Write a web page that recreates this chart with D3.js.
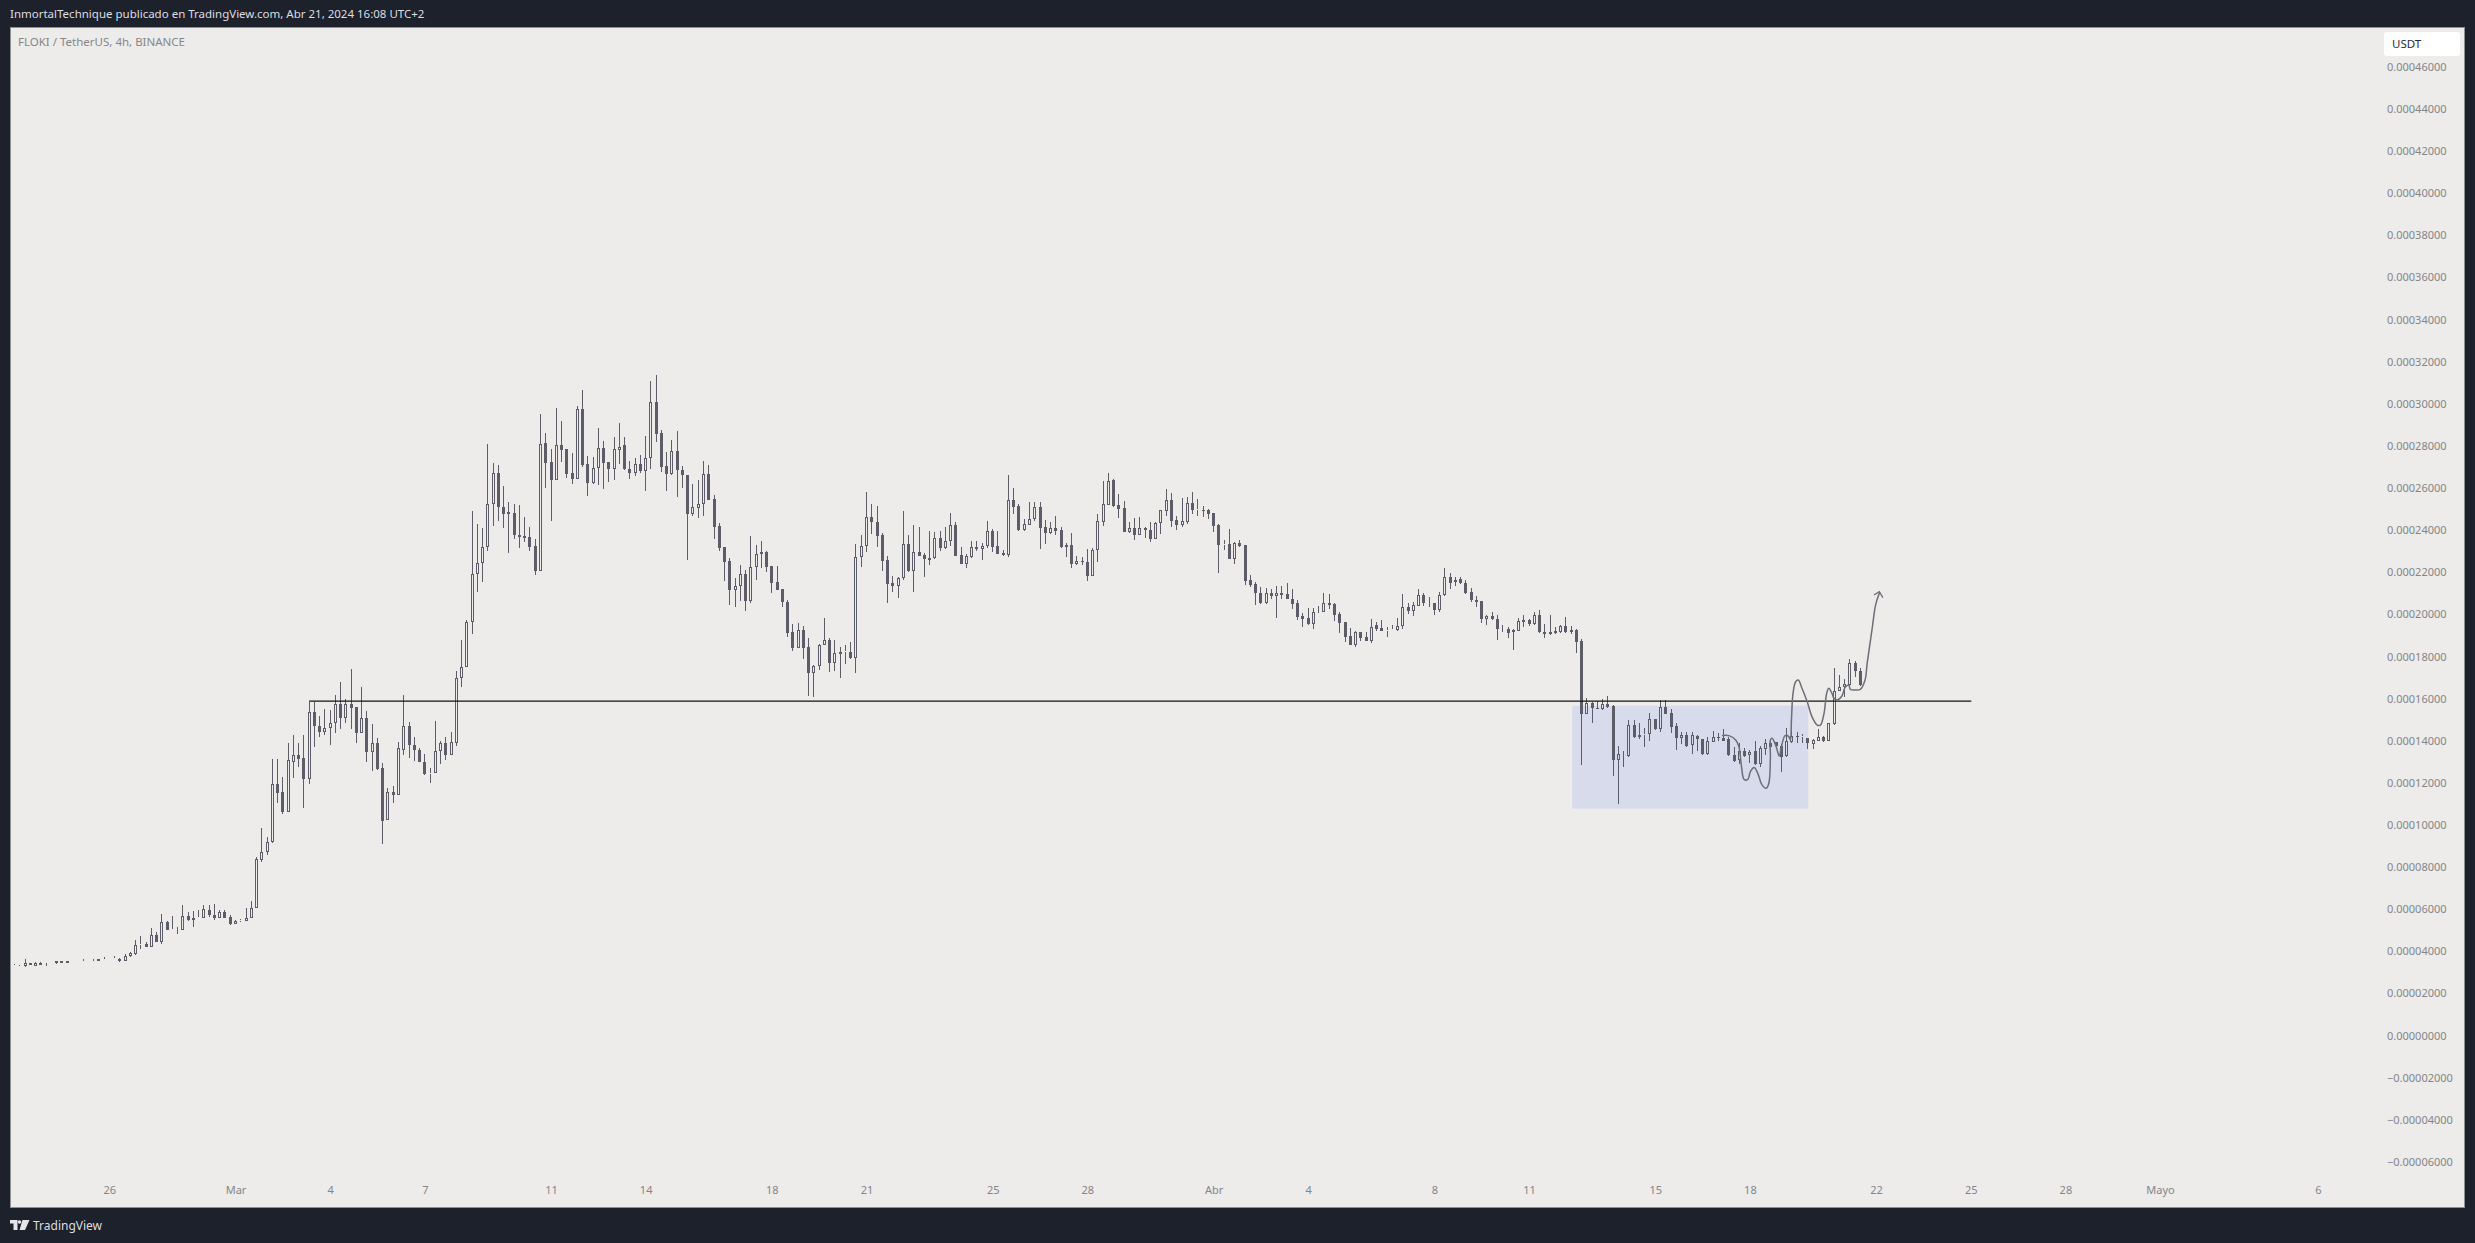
<!DOCTYPE html>
<html><head><meta charset="utf-8">
<script src="https://cdn.jsdelivr.net/npm/d3@7/dist/d3.min.js"></script>
<style>html,body{margin:0;padding:0;background:#1c212c;overflow:hidden}svg{display:block}</style>
</head><body><svg id="chart" width="2475" height="1243"></svg>
<script>
// Prices are in units of 1e-7 USDT. Rows: [open, high, low, close], one 4h bar each, first bar 2024-02-22 20:00 UTC.
const barsA=[[344,346,342,344],[341,345,340,341],[334,337,333,335],[332,365,330,348],[348,349,337,338],[336,351,336,350],[350,351,340,340],[342,350,336,345],[347,348,346,348],[346,358,345,357],[357,358,349,350],[357,358,349,350],[357,359,356,358],[357,358,356,357],[358,367,357,359],[357,359,356,358],[360,367,359,362],[365,366,358,359],[366,377,365,367],[371,372,370,371],[372,379,371,373],[369,370,354,357],[359,389,358,379],[379,401,378,395],[391,458,388,432],[432,474,416,437],[438,446,424,426],[426,515,424,483],[483,497,449,450],[448,580,440,544],[544,546,506,507],[507,572,506,509],[509,521,487,511],[505,623,503,570],[570,590,546,552],[552,594,517,564],[564,600,563,566],[562,625,561,604],[602,623,566,574],[574,627,554,564],[564,602,563,590],[590,598,563,564],[566,574,527,535],[535,554,534,546],[546,558,542,550],[548,608,547,564],[564,641,563,611],[611,850,610,842],[838,989,830,877],[877,948,863,921]];
const barsB=[[921,1316,920,1200],[1200,1316,1106,1157],[1159,1232,1056,1064],[1066,1391,1065,1310],[1303,1431,1228,1334],[1334,1393,1279,1318],[1324,1431,1086,1220],[1220,1590,1200,1539],[1539,1590,1373,1476],[1476,1519,1421,1446],[1446,1555,1429,1462],[1462,1549,1383,1490],[1490,1622,1440,1576],[1576,1681,1460,1513],[1513,1602,1486,1580],[1580,1744,1460,1560],[1562,1563,1395,1442],[1442,1657,1441,1511],[1511,1547,1303,1348],[1348,1484,1259,1391],[1391,1417,1267,1271],[1273,1299,915,1023],[1029,1180,1028,1159],[1159,1188,1106,1147],[1147,1397,1146,1367],[1362,1622,1338,1476],[1476,1495,1324,1385],[1385,1421,1306,1362],[1362,1371,1303,1304],[1304,1342,1243,1245],[1245,1275,1204,1251],[1251,1497,1250,1354],[1354,1403,1295,1393],[1393,1421,1314,1338],[1338,1444,1337,1397],[1393,1736,1381,1700],[1700,1882,1661,1756],[1756,1976,1754,1966],[1966,2493,1912,2194],[2194,2433,2112,2246],[2246,2414,2156,2322],[2322,2813,2307,2527],[2527,2721,2425,2674],[2674,2712,2447,2515],[2515,2615,2416,2482],[2482,2536,2297,2489],[2485,2530,2362,2383],[2383,2523,2321,2373],[2375,2466,2349,2368],[2370,2419,2307,2326]];
const barsC=[[2327,2360,2193,2212],[2212,2956,2211,2811],[2816,2864,2606,2724],[2726,2789,2449,2644],[2641,2984,2640,2807],[2807,2922,2729,2786],[2788,2790,2653,2672],[2674,2770,2625,2648],[2648,2994,2647,2979],[2979,3070,2705,2713],[2717,2756,2568,2630],[2628,2751,2625,2698],[2698,2888,2618,2793],[2793,2826,2601,2724],[2726,2728,2634,2696],[2696,2845,2644,2788],[2786,2911,2720,2800],[2807,2845,2688,2696],[2696,2732,2647,2677],[2677,2747,2663,2717],[2717,2759,2677,2687],[2687,2851,2591,2745],[2745,3112,2694,3011],[3011,3141,2823,2862],[2864,2880,2682,2705],[2707,2775,2591,2672],[2671,2832,2664,2778],[2778,2875,2563,2688],[2688,2709,2606,2664],[2664,2666,2264,2482],[2481,2623,2473,2512],[2511,2642,2463,2527],[2527,2732,2471,2669],[2669,2713,2547,2549],[2550,2571,2362,2421],[2424,2440,2307,2321],[2322,2324,2164,2254],[2256,2272,2049,2121],[2121,2177,2041,2140],[2140,2240,2069,2196],[2196,2215,2022,2069],[2069,2376,2060,2227],[2227,2333,2169,2289],[2289,2352,2224,2299],[2300,2307,2207,2231],[2232,2234,2107,2155],[2156,2234,2120,2121],[2123,2124,2041,2061],[2061,2072,1898,1916],[1919,1958,1832,1846]];
const barsD=[[1846,1961,1845,1928],[1928,1949,1792,1846],[1847,1890,1618,1727],[1727,1764,1613,1757],[1757,1865,1741,1857],[1857,1987,1856,1881],[1881,1890,1732,1771],[1771,1882,1737,1819],[1817,1849,1703,1827],[1827,1859,1770,1829],[1824,1871,1792,1798],[1798,2337,1727,2275],[2275,2379,2229,2327],[2327,2584,2302,2468],[2468,2528,2386,2444],[2444,2519,2326,2378],[2381,2389,2212,2259],[2262,2280,2060,2150],[2151,2186,2112,2140],[2140,2180,2083,2177],[2177,2493,2167,2337],[2337,2379,2205,2210],[2212,2428,2112,2299],[2299,2419,2281,2283],[2286,2294,2183,2265],[2264,2400,2238,2273],[2272,2397,2269,2367],[2365,2400,2306,2321],[2321,2417,2316,2351],[2351,2484,2329,2427],[2428,2443,2281,2283],[2284,2324,2242,2243],[2245,2289,2224,2281],[2278,2351,2273,2322],[2322,2352,2305,2314],[2316,2343,2262,2330],[2327,2447,2319,2398],[2400,2409,2302,2325],[2327,2400,2289,2292],[2294,2310,2283,2287],[2286,2666,2276,2545],[2545,2604,2481,2515],[2519,2526,2401,2405],[2405,2457,2401,2432],[2430,2538,2427,2458],[2457,2538,2447,2512],[2514,2536,2314,2416],[2417,2450,2338,2392],[2390,2441,2387,2413],[2413,2469,2381,2401]];
const barsE=[[2403,2417,2321,2324],[2324,2344,2275,2332],[2332,2389,2226,2245],[2243,2283,2237,2256],[2256,2276,2240,2254],[2251,2313,2164,2188],[2188,2318,2187,2310],[2308,2481,2253,2446],[2444,2636,2424,2526],[2525,2675,2523,2639],[2642,2645,2515,2520],[2522,2574,2462,2506],[2507,2542,2395,2397],[2397,2441,2392,2413],[2413,2460,2357,2381],[2382,2465,2379,2413],[2413,2417,2365,2403],[2403,2443,2349,2362],[2363,2441,2362,2438],[2436,2501,2386,2498],[2495,2598,2471,2545],[2545,2580,2419,2449],[2450,2471,2405,2428],[2428,2557,2420,2446],[2441,2561,2435,2531],[2531,2585,2481,2501],[2501,2550,2473,2502],[2500,2520,2466,2498],[2498,2503,2457,2482],[2484,2485,2395,2424],[2428,2433,2200,2335],[2335,2359,2311,2337],[2338,2409,2267,2268],[2268,2346,2243,2343],[2341,2357,2325,2329],[2332,2333,2143,2161],[2166,2191,2134,2142],[2147,2156,2048,2107],[2107,2134,2055,2058],[2058,2128,2055,2107],[2107,2123,2079,2093],[2093,2140,1987,2107],[2107,2140,2075,2096],[2099,2151,2075,2077],[2079,2124,2029,2055],[2056,2071,1977,1991],[1996,2009,1944,1983],[1985,2033,1953,1957],[1958,2036,1934,2014],[2014,2045,2010,2015]];
const barsF=[[2015,2107,2014,2059],[2059,2099,2028,2050],[2055,2056,1971,2001],[2006,2017,1915,1965],[1966,1968,1873,1896],[1901,1938,1857,1860],[1858,1927,1849,1919],[1920,1922,1876,1892],[1895,1919,1877,1879],[1877,1980,1870,1945],[1952,1969,1927,1934],[1938,1976,1925,1927],[1927,1945,1896,1930],[1930,1953,1930,1933],[1930,1985,1927,1950],[1949,2101,1933,2037],[2037,2059,2006,2020],[2021,2061,1996,2047],[2045,2123,2042,2094],[2096,2107,2045,2056],[2056,2085,2040,2057],[2056,2058,2001,2026],[2025,2108,2017,2096],[2094,2222,2091,2180],[2180,2199,2126,2154],[2156,2183,2140,2169],[2172,2180,2150,2151],[2151,2167,2099,2107],[2110,2131,2063,2072],[2074,2091,2040,2063],[2067,2069,1964,1983],[1982,2001,1955,1998],[1998,2013,1977,1983],[1983,2002,1884,1933],[1933,1953,1919,1934],[1936,1942,1893,1917],[1919,1933,1836,1930],[1926,1987,1923,1971],[1975,1999,1944,1969],[1975,1983,1947,1960],[1958,2015,1955,2001],[2001,2023,1917,1919],[1922,1958,1893,1912],[1911,2001,1906,1922],[1923,1942,1911,1915],[1919,1953,1917,1949],[1947,1990,1917,1922],[1922,1949,1911,1928],[1928,1934,1822,1874],[1876,1887,1288,1532]];
const barsG=[[1532,1605,1531,1581],[1581,1589,1488,1561],[1561,1594,1554,1558],[1554,1603,1550,1577],[1578,1616,1561,1565],[1569,1573,1238,1312],[1314,1379,1103,1339],[1339,1357,1279,1341],[1331,1502,1328,1477],[1478,1501,1417,1421],[1421,1486,1414,1432],[1432,1464,1374,1437],[1436,1534,1404,1505],[1505,1507,1455,1461],[1459,1597,1447,1562],[1562,1597,1531,1532],[1534,1553,1442,1469],[1474,1489,1360,1417],[1417,1447,1388,1429],[1431,1447,1376,1379],[1382,1444,1341,1429],[1428,1431,1357,1410],[1410,1412,1336,1339],[1341,1423,1338,1402],[1399,1448,1396,1420],[1420,1439,1401,1415],[1417,1459,1402,1404],[1412,1420,1333,1336],[1338,1372,1304,1309],[1312,1395,1293,1353],[1353,1368,1328,1333],[1336,1360,1300,1350],[1355,1402,1288,1292],[1292,1379,1277,1368],[1365,1412,1334,1391],[1391,1412,1357,1376],[1396,1399,1376,1380],[1380,1388,1257,1328],[1331,1463,1328,1401],[1398,1455,1395,1428],[1428,1444,1395,1423],[1423,1436,1395,1424],[1415,1417,1363,1391],[1390,1414,1364,1407],[1404,1459,1402,1423],[1423,1425,1396,1402],[1404,1489,1401,1488],[1483,1749,1477,1641],[1641,1716,1639,1660],[1659,1695,1613,1672],[1668,1790,1665,1771],[1774,1782,1708,1736],[1735,1748,1665,1668]];

// Drawn annotations, located by bar number and price (1e-7 USDT)
const sketchBars=[325.7,327.0,328.3,328.9,329.4,329.9,330.6,331.1,331.8,332.5,333.3,334.1,334.6,334.9,334.9,335.2,335.9,336.6,337.0,337.7,338.4,338.7,338.9,339.2,339.7,340.2,340.9,341.9,342.8,343.8,344.4,345.1,345.6,346.0,346.6,347.0,347.6,348.5,349.1,349.8,350.1,351.1,352.0,352.9,353.3,354.3,354.9,355.7];
const sketchPrices=[1428,1428,1407,1376,1281,1220,1220,1257,1276,1249,1194,1178,1202,1328,1407,1415,1383,1331,1376,1428,1423,1407,1502,1629,1684,1692,1653,1589,1518,1478,1478,1534,1629,1653,1629,1605,1597,1616,1657,1668,1648,1645,1648,1692,1771,1945,2048,2110];
const arrowBars=[354.6,355.6,356.3];
const arrowPrices=[2096,2112,2083];
const zoneBars=[297.2,342.1];
const zonePrices=[1570,1081];
const levelBars=[57,373.1];
const levelPrice=1592;

const priceTicks=[4600,4400,4200,4000,3800,3600,3400,3200,3000,2800,2600,2400,2200,2000,1800,1600,1400,1200,1000,800,600,400,200,0,-200,-400,-600];
const timeTickDates=["2024-02-26","2024-03-01","2024-03-04","2024-03-07","2024-03-11","2024-03-14","2024-03-18","2024-03-21","2024-03-25","2024-03-28","2024-04-01","2024-04-04","2024-04-08","2024-04-11","2024-04-15","2024-04-18","2024-04-22","2024-04-25","2024-04-28","2024-05-01","2024-05-06"];
const timeTickLabels=["26","Mar","4","7","11","14","18","21","25","28","Abr","4","8","11","15","18","22","25","28","Mayo","6"];

const headerText="InmortalTechnique publicado en TradingView.com, Abr 21, 2024 16:08 UTC+2";
const symbolText="FLOKI / TetherUS, 4h, BINANCE";
const currencyText="USDT";
const brandText="TradingView";

const bars=[].concat(barsA,barsB,barsC,barsD,barsE,barsF,barsG);
const FONT="'Noto Sans',sans-serif";
const DARK="#1c212c",PANEL="#edecea",INK="#5c5d69";
const svg=d3.select("#chart");
const plot={l:10,r:2464,t:27,b:1207};

const firstBar=Date.UTC(2024,1,22,20),H4=4*3600e3;
const barDate=i=>new Date(firstBar+i*H4);
const x=d3.scaleUtc().domain([new Date("2024-02-26"),new Date("2024-05-06")]).range([109.3,2317.8]);
const y=d3.scaleLinear().domain([0,4600]).range([1036.3,67.7]);
const bx=i=>x(barDate(i));

svg.append("rect").attr("width",2475).attr("height",1243).attr("fill",DARK);
svg.append("rect").attr("x",plot.l+.5).attr("y",plot.t+.5).attr("width",plot.r-plot.l).attr("height",plot.b-plot.t).attr("fill",PANEL).attr("stroke","#8f9094");
svg.append("defs").append("clipPath").attr("id","pc").append("rect").attr("x",plot.l+1).attr("y",plot.t+1).attr("width",plot.r-plot.l-1).attr("height",plot.b-plot.t-1);

const g=svg.append("g").attr("clip-path","url(#pc)");
g.append("rect").attr("x",bx(zoneBars[0])).attr("y",y(zonePrices[0])).attr("width",bx(zoneBars[1])-bx(zoneBars[0])).attr("height",y(zonePrices[1])-y(zonePrices[0])).attr("fill","#d8dbeb");

const cg=g.append("g").attr("shape-rendering","crispEdges");
bars.forEach((b,i)=>{
  const [o,h,l,c]=b, cx=Math.floor(bx(i));
  const top=Math.round(y(Math.max(o,c))), bot=Math.round(y(Math.min(o,c)));
  const yh=Math.round(y(h)), yl=Math.round(y(l));
  cg.append("path").attr("d",`M${cx+.5},${yh}V${top}M${cx+.5},${bot}V${yl}`).attr("stroke",INK).attr("fill","none");
  if(c>=o){
    cg.append("rect").attr("x",cx-.5).attr("y",top+.5).attr("width",2).attr("height",Math.max(bot-top-1,0)).attr("fill","none").attr("stroke",INK);
  }else{
    cg.append("rect").attr("x",cx-1).attr("y",top).attr("width",3).attr("height",Math.max(bot-top,1)).attr("fill",INK);
  }
});

g.append("line").attr("x1",bx(levelBars[0])).attr("x2",bx(levelBars[1])).attr("y1",y(levelPrice)).attr("y2",y(levelPrice)).attr("stroke","#131313").attr("stroke-width",1.2);

const sketch=d3.line().x(d=>bx(d[0])).y(d=>y(d[1])).curve(d3.curveCatmullRom.alpha(.5));
g.append("path").attr("d",sketch(d3.zip(sketchBars,sketchPrices))).attr("fill","none").attr("stroke","#6d6e76").attr("stroke-width",1.5);
const straight=d3.line().x(d=>bx(d[0])).y(d=>y(d[1]));
g.append("path").attr("d",straight(d3.zip(arrowBars,arrowPrices))).attr("fill","none").attr("stroke","#6d6e76").attr("stroke-width",1.3);

// Axes
const fmtPrice=p=>(p/1e7).toFixed(8).replace("-","\u2212");
const yAxis=d3.axisRight(y).tickValues(priceTicks).tickSize(0).tickPadding(0).tickFormat(fmtPrice);
const ya=svg.append("g").attr("transform","translate(2387,-0.8)").call(yAxis);
ya.select(".domain").remove();
ya.selectAll("text").attr("font-family",FONT).attr("font-size",11).attr("fill","#84858a");

const xAxis=d3.axisBottom(x).tickValues(timeTickDates.map(d=>new Date(d))).tickSize(0).tickPadding(0).tickFormat((d,i)=>timeTickLabels[i]);
const xa=svg.append("g").attr("transform","translate(0,1186)").call(xAxis);
xa.select(".domain").remove();
xa.selectAll("text").attr("font-family",FONT).attr("font-size",11).attr("fill","#84858a");

// Header, symbol, currency tag, footer
svg.append("text").attr("x",10).attr("y",18).attr("font-family",FONT).attr("font-size",11.5).attr("fill","#dcdde0").text(headerText);
svg.append("text").attr("x",18).attr("y",46).attr("font-family",FONT).attr("font-size",11.5).attr("fill","#85868b").text(symbolText);
svg.append("rect").attr("x",2384).attr("y",32).attr("width",76).attr("height",24).attr("rx",3).attr("fill","#ffffff");
svg.append("text").attr("x",2392).attr("y",48).attr("font-family",FONT).attr("font-size",11.5).attr("fill","#2a2e39").text(currencyText);

const logo=svg.append("g").attr("fill","#e6e6e8");
logo.append("path").attr("d","M10,1220h7.5v10h-4v-6.5h-3.5z");
logo.append("circle").attr("cx",19.5).attr("cy",1222).attr("r",1.8);
logo.append("path").attr("d","M22.5,1220h7l-4.5,10h-5.5z");
svg.append("text").attr("x",33).attr("y",1229.5).attr("font-family",FONT).attr("font-size",12).attr("fill","#dcdde0").text(brandText);
</script></body></html>
